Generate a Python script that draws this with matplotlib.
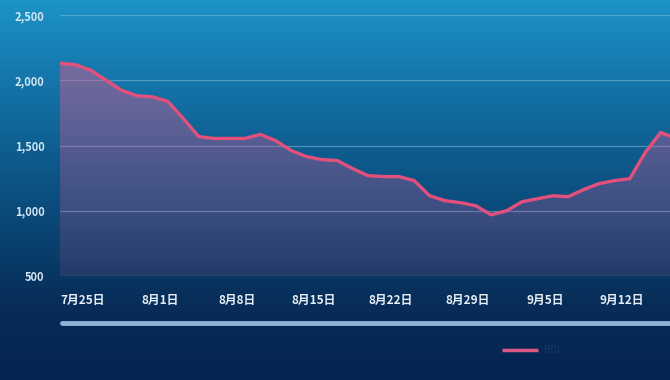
import numpy as np
import matplotlib.pyplot as plt
from matplotlib.colors import LinearSegmentedColormap
from matplotlib.lines import Line2D

plt.rcParams['font.family'] = ['Noto Sans CJK SC', 'DejaVu Sans']

# BDI daily values
bdi = [2131, 2119, 2077, 2000, 1923, 1881, 1873, 1838, 1708, 1569,
       1554, 1554, 1554, 1585, 1538, 1462, 1415, 1392, 1385, 1323,
       1269, 1262, 1262, 1231, 1115, 1077, 1062, 1038, 969, 1000,
       1069, 1092, 1115, 1108, 1162, 1208, 1231, 1246, 1446, 1600, 1554]
tick_labels = ['7月25日', '8月1日', '8月8日', '8月15日', '8月22日', '8月29日', '9月5日', '9月12日']
y_ticks = [500, 1000, 1500, 2000, 2500]

W, H = 670, 380
fig = plt.figure(figsize=(W / 100, H / 100), dpi=100)

# background gradient
bg = fig.add_axes([0, 0, 1, 1], zorder=-10)
bg_cmap = LinearSegmentedColormap.from_list(
    'bg', ['#1d93c6', '#1577ab', '#0e5c8f', '#0a4574', '#072d58', '#052450'])
bg.imshow(np.linspace(0, 1, 256).reshape(-1, 1), aspect='auto', cmap=bg_cmap,
          extent=[0, 1, 0, 1], origin='upper')
bg.axis('off')

px = 15.4
x = np.arange(len(bdi))
ax = fig.add_axes([60 / W, 1 - 276 / H, 610 / W, 261 / H])
ax.patch.set_alpha(0)

# gradient fill under the line
fill = ax.fill_between(x, bdi, 500, color='none', lw=0)
fill_cmap = LinearSegmentedColormap.from_list(
    'fill', [(0.80, 0.35, 0.60, 0.14), (0.86, 0.35, 0.55, 0.5)])
im = ax.imshow(np.linspace(0, 1, 256).reshape(-1, 1), aspect='auto', cmap=fill_cmap,
               extent=[0, len(bdi), 500, 2150], origin='lower', zorder=1)
im.set_clip_path(fill.get_paths()[0], transform=ax.transData)
ax.set_xlim(0, 610 / px)
ax.set_ylim(500, 2500)

ax.plot(x, bdi, color='#e2507c', lw=2.4, zorder=3, solid_joinstyle='round')

for v in y_ticks:
    ax.axhline(v, color='#8cc0e0', lw=0.9, alpha=0.5, zorder=0)

ax.set_yticks(y_ticks)
ax.set_yticklabels([f'{v:,}' for v in y_ticks], color='#d4e6f2',
                   fontsize=8, fontweight='bold')
ax.set_xticks([1.5 + 5 * i for i in range(len(tick_labels))])
ax.set_xticklabels(tick_labels, color='#e6eef6', fontsize=8.5, fontweight='bold')
ax.tick_params(axis='y', length=0, pad=11)
ax.tick_params(axis='x', length=0, pad=13)
for s in ax.spines.values():
    s.set_visible(False)

# scrollbar-like bar
fig.add_artist(Line2D([62 / W, 1.0], [1 - 323 / H] * 2, color='#8db3d6',
                      lw=3.5, solid_capstyle='round'))
# legend
fig.add_artist(Line2D([502 / W, 538 / W], [1 - 350 / H] * 2, color='#dc5a84',
                      lw=2.5, solid_capstyle='butt'))
fig.text(544 / W, 1 - 350 / H, 'BDI', color='#1a3866', fontsize=7,
         va='center', ha='left')

fig.savefig('out.png', dpi=100)
